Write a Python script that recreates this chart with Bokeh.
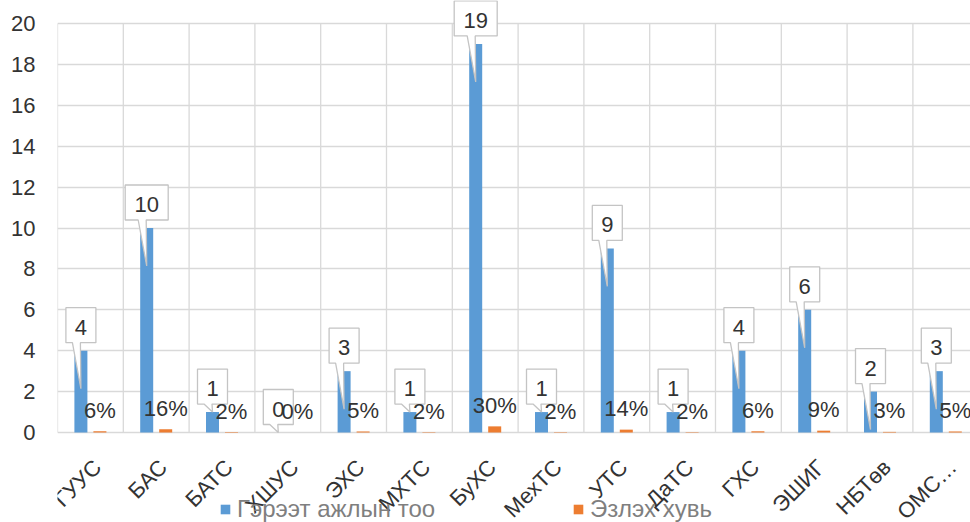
import math
from bokeh.plotting import figure
from bokeh.models import Range1d, FixedTicker, Legend, LegendItem
from bokeh.embed import file_html
from bokeh.resources import INLINE
from bokeh.core.properties import value

# ---------------- data ----------------
categories = ["ГУУС", "БАС", "БАТС", "ХШУС", "ЭХС", "МХТС", "БуХС",
              "МехТС", "УТС", "ДаТС", "ГХС", "ЭШИГ", "НБТөв", "ОМС…"]
counts = [4, 10, 1, 0, 3, 1, 19, 1, 9, 1, 4, 6, 2, 3]
shares = [0.06, 0.16, 0.02, 0.00, 0.05, 0.02, 0.30, 0.02, 0.14, 0.02, 0.06, 0.09, 0.03, 0.05]
share_labels = ["6%", "16%", "2%", "0%", "5%", "2%", "30%", "2%", "14%", "2%", "6%", "9%", "3%", "5%"]
y_ticks = [0, 2, 4, 6, 8, 10, 12, 14, 16, 18, 20]
series_names = ["Гэрээт ажлын тоо", "Эзлэх хувь"]

# ---------------- layout ----------------
FONT = "Liberation Sans"
BLUE = "#5b9bd5"
ORANGE = "#ed7d31"
GRID = "#d9d9d9"
TXT = "#333333"
FS = "22px"

W, H = 970, 522
BL = 57
frame_w = W - BL
frame_h = H
XPX = 65.8                      # px per category
YPX = 20.45                     # px per y unit
ZERO_PX = 432                   # screen y of value 0
x_start = -0.5
x_end = x_start + frame_w / XPX
y_end = ZERO_PX / YPX
y_start = -(frame_h - ZERO_PX) / YPX

p = figure(width=W, height=H, output_backend="svg", toolbar_location=None,
           x_range=Range1d(x_start, x_end), y_range=Range1d(y_start, y_end),
           x_axis_location=None,
           min_border_left=BL, min_border_right=0, min_border_top=0,
           min_border_bottom=0)
p.outline_line_color = None
p.background_fill_color = "white"
p.border_fill_color = "white"

n = len(categories)
idx = list(range(n))
off = 9.5 / XPX
bw = 13 / XPX
blue_x = [i - off for i in idx]
orange_x = [i + off for i in idx]

# grid
p.xgrid.visible = False
p.ygrid.ticker = FixedTicker(ticks=y_ticks)
p.ygrid.grid_line_color = GRID
p.ygrid.grid_line_width = 1.3
bounds = [i - 0.5 for i in idx]
p.segment(x0=bounds, y0=[y_ticks[0]] * n, x1=bounds,
          y1=[y_ticks[-1]] * n, line_color=GRID, line_width=1.3)

# bars
r_blue = p.vbar(x=blue_x, top=counts, width=bw, bottom=0, fill_color=BLUE, line_color=None)
r_orange = p.vbar(x=orange_x, top=shares, width=bw, bottom=0, fill_color=ORANGE, line_color=None)

# callouts
xs, ys, tx, ty, tt = [], [], [], [], []
for i, c in zip(idx, counts):
    label = str(c)
    cx = blue_x[i]
    hw = (17 + 13 * len(label)) / 2 / XPX
    b = c + 8 / YPX
    t = b + 35 / YPX
    tip = c - 38 / YPX
    if tip < 0:
        tip = c
    bl = cx - 8.5 / XPX
    br = cx - 0.5 / XPX
    xs.append([cx - hw, cx + hw, cx + hw, br, cx, bl, cx - hw])
    ys.append([t, t, b, b, tip, b, b])
    tx.append(cx)
    ty.append((b + t) / 2)
    tt.append(label)
p.patches(xs=xs, ys=ys, fill_color="white", line_color="#c4c4c4", line_width=1.3)
p.text(x=tx, y=ty, text=tt, text_align="center", text_baseline="middle",
       text_font=value(FONT), text_font_size=FS, text_color=TXT, y_offset=2)

# percentage labels
p.text(x=orange_x, y=shares, text=share_labels, text_align="center",
       text_baseline="alphabetic", y_offset=-21, text_font=value(FONT),
       text_font_size=FS, text_color=TXT)

# category labels (rotated, below the zero line)
p.text(x=idx, y=[0] * n, text=categories, angle=math.pi / 4,
       text_align="right", text_baseline="middle", x_offset=7, y_offset=31,
       text_font=value(FONT), text_font_size=FS, text_color=TXT)

# y axis
p.yaxis.ticker = FixedTicker(ticks=y_ticks)
p.yaxis.axis_line_color = None
p.yaxis.major_tick_line_color = None
p.yaxis.minor_tick_line_color = None
p.yaxis.major_tick_out = 0
p.yaxis.major_tick_in = 0
p.yaxis.major_label_standoff = 22
p.yaxis.major_label_text_font = FONT
p.yaxis.major_label_text_font_size = FS
p.yaxis.major_label_text_color = TXT

# legend
legend = Legend(items=[LegendItem(label=series_names[0], renderers=[r_blue]),
                       LegendItem(label=series_names[1], renderers=[r_orange])],
                orientation="horizontal", location=(162, -1),
                glyph_width=12, glyph_height=12, label_standoff=6,
                label_width=335, spacing=0, padding=0, margin=0,
                border_line_color=None, background_fill_alpha=0,
                label_text_font=FONT, label_text_font_size="24px",
                label_text_color="#7f7f7f")
p.add_layout(legend)

open("out.html", "w").write(file_html(p, INLINE))
